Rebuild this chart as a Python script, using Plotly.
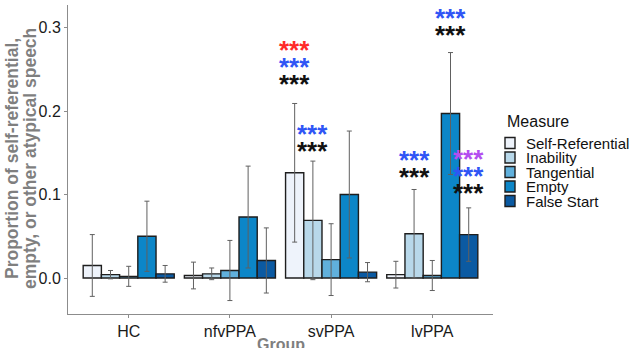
import plotly.graph_objects as go

groups = ["HC", "nfvPPA", "svPPA", "lvPPA"]
measures = ["Self-Referential", "Inability", "Tangential", "Empty", "False Start"]
colors = ["#eef3fb", "#b8d8ea", "#60b0dc", "#0c86c8", "#0b5aa2"]

means = {
    "Self-Referential": [0.015, 0.003, 0.126, 0.004],
    "Inability":        [0.004, 0.005, 0.069, 0.053],
    "Tangential":       [0.002, 0.009, 0.022, 0.003],
    "Empty":            [0.050, 0.073, 0.100, 0.197],
    "False Start":      [0.005, 0.021, 0.007, 0.052],
}
sds = {
    "Self-Referential": [0.037, 0.016, 0.083, 0.016],
    "Inability":        [0.005, 0.007, 0.071, 0.053],
    "Tangential":       [0.012, 0.036, 0.043, 0.018],
    "Empty":            [0.042, 0.061, 0.076, 0.073],
    "False Start":      [0.010, 0.039, 0.0115, 0.032],
}

# significance markers: (group, measure, lowest-row y, colours top->bottom)
sig = [
    ("svPPA", "Self-Referential", 0.237, ["#ff2a2a", "#2f55f5", "#111111"]),
    ("svPPA", "Inability", 0.157, ["#2f55f5", "#111111"]),
    ("lvPPA", "Inability", 0.126, ["#2f55f5", "#111111"]),
    ("lvPPA", "Empty", 0.296, ["#2f55f5", "#111111"]),
    ("lvPPA", "False Start", 0.106, ["#b44ef0", "#2f55f5", "#111111"]),
]

FONT = "Liberation Sans, Arial, sans-serif"
W, H = 633, 348
L, R, T, B = 68, 140, 5, 34
PW, PH = W - L - R, H - T - B

xs = list(range(1, len(groups) + 1))
fig = go.Figure()
for m, c in zip(measures, colors):
    fig.add_trace(go.Bar(
        x=xs, y=means[m], name=m,
        marker=dict(color=c, line=dict(color="#1e1e1e", width=1.4)),
        error_y=dict(type="data", array=sds[m], visible=True,
                     color="#606060", thickness=1, width=2.5),
        showlegend=False,
    ))

bar_w = 0.9 / len(measures)
annotations = []
step = 0.0205
for g, m, ybase, cols in sig:
    gx = groups.index(g) + 1 + (-0.45 + bar_w * (measures.index(m) + 0.5))
    n = len(cols)
    for k, col in enumerate(cols):
        annotations.append(dict(
            x=gx, y=ybase + step * (n - 1 - k), xref="x", yref="y",
            text="***", showarrow=False, yanchor="middle", xanchor="center",
            yshift=-4,
            font=dict(family=FONT, size=26, color=col, weight="bold"),
        ))

def py(Y):
    return (T + PH - Y) / PH

def px(X):
    return (X - L) / PW

# y-axis title (two lines, tight line spacing)
for xc, line in [(12, "Proportion of self-referential,"),
                 (30, "empty, or other atypical speech")]:
    annotations.append(dict(
        x=px(xc), y=py(159), xref="paper", yref="paper",
        text=line, textangle=-90, showarrow=False,
        xanchor="center", yanchor="middle",
        font=dict(family=FONT, size=17.5, color="#7f7f7f", weight="bold"),
    ))
# x-axis title
annotations.append(dict(
    x=px(281), y=py(344), xref="paper", yref="paper",
    text="Group", showarrow=False, xanchor="center", yanchor="middle",
    font=dict(family=FONT, size=16, color="#7f7f7f", weight="bold"),
))

# manual legend
lx = px(505)
annotations.append(dict(
    x=lx, y=py(121), xref="paper", yref="paper", text="Measure",
    showarrow=False, xanchor="left", yanchor="middle",
    font=dict(family=FONT, size=16, color="#111111"),
))
shapes = []
for i, (m, c) in enumerate(zip(measures, colors)):
    yc = 143 + 14.5 * i
    shapes.append(dict(
        type="rect", xref="paper", yref="paper",
        xsizemode="pixel", ysizemode="pixel",
        xanchor=lx, yanchor=py(yc),
        x0=0, x1=10, y0=-5.5, y1=5.5,
        fillcolor=c, line=dict(color="#1e1e1e", width=1.4),
    ))
    annotations.append(dict(
        x=px(524), y=py(yc), xref="paper", yref="paper", text=m,
        showarrow=False, xanchor="left", yanchor="middle",
        font=dict(family=FONT, size=15, color="#111111"),
    ))

fig.update_layout(
    width=W, height=H,
    margin=dict(l=L, r=R, t=T, b=B),
    paper_bgcolor="white", plot_bgcolor="white",
    barmode="group", bargap=0.1, bargroupgap=0,
    font=dict(family=FONT),
    annotations=annotations, shapes=shapes,
    xaxis=dict(range=[0.4, 4.6], tickvals=xs, ticktext=groups,
               showline=True, linecolor="#8c8c8c", linewidth=1,
               ticks="outside", ticklen=3, tickcolor="#8c8c8c",
               showgrid=False, zeroline=False,
               tickfont=dict(family=FONT, size=16, color="#1a1a1a")),
    yaxis=dict(range=[-(T + PH - 278) / 835, (278 - T) / 835],
               tickvals=[0, 0.1, 0.2, 0.3], ticktext=["0.0", "0.1", "0.2", "0.3"],
               showline=True, linecolor="#8c8c8c", linewidth=1,
               ticks="outside", ticklen=3, tickcolor="#8c8c8c",
               showgrid=False, zeroline=False,
               tickfont=dict(family=FONT, size=16, color="#1a1a1a")),
)

fig.write_html("out.html")
